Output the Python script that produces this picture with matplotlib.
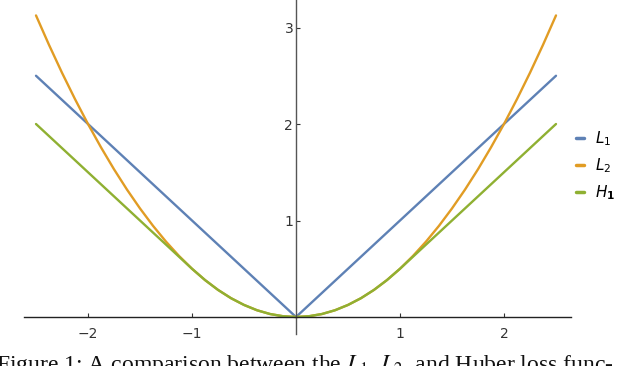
import matplotlib.pyplot as plt

# loss curves
x_l1 = [-2.5, 0.0, 2.5]
y_l1 = [2.5, 0.0, 2.5]

x_l2 = [-2.5, -2.375, -2.25, -2.125, -2.0, -1.875, -1.75, -1.625, -1.5, -1.375,
        -1.25, -1.125, -1.0, -0.875, -0.75, -0.625, -0.5, -0.375, -0.25, -0.125,
        0.0, 0.125, 0.25, 0.375, 0.5, 0.625, 0.75, 0.875, 1.0, 1.125,
        1.25, 1.375, 1.5, 1.625, 1.75, 1.875, 2.0, 2.125, 2.25, 2.375, 2.5]
y_l2 = [3.125, 2.820, 2.531, 2.258, 2.0, 1.758, 1.531, 1.320, 1.125, 0.945,
        0.781, 0.633, 0.5, 0.383, 0.281, 0.195, 0.125, 0.070, 0.031, 0.008,
        0.0, 0.008, 0.031, 0.070, 0.125, 0.195, 0.281, 0.383, 0.5, 0.633,
        0.781, 0.945, 1.125, 1.320, 1.531, 1.758, 2.0, 2.258, 2.531, 2.820, 3.125]

x_h1 = [-2.5, -1.0, -0.875, -0.75, -0.625, -0.5, -0.375, -0.25, -0.125,
        0.0, 0.125, 0.25, 0.375, 0.5, 0.625, 0.75, 0.875, 1.0, 2.5]
y_h1 = [2.0, 0.5, 0.383, 0.281, 0.195, 0.125, 0.070, 0.031, 0.008,
        0.0, 0.008, 0.031, 0.070, 0.125, 0.195, 0.281, 0.383, 0.5, 2.0]

x_ticks = [-2, -1, 1, 2]
y_ticks = [1, 2, 3]
labels = ['$L_1$', '$L_2$', r'$H_{\mathbf{1}}$']
colors = ['#5E81B5', '#E19C24', '#8FB032']

caption = 'Figure 1: A comparison between the $L_1$, $L_2$, and Huber loss func-'


def main():
    fig = plt.figure(figsize=(6.4, 3.66), dpi=100)
    ax = fig.add_axes([0, 0, 1, 1])
    ax.patch.set_alpha(0)

    # pixel layout: x=0 at 296 px, 104 px/unit; y=0 at 317 px from top, 96.5 px/unit
    ax.set_xlim(-296 / 104, (640 - 296) / 104)
    ax.set_ylim(-49 / 96.5, 317 / 96.5)

    for xs, ys, lab, c in zip([x_l1, x_l2, x_h1], [y_l1, y_l2, y_h1], labels, colors):
        ax.plot(xs, ys, color=c, lw=1.7, label=lab, solid_capstyle='round')

    for side in ['top', 'right']:
        ax.spines[side].set_visible(False)
    ax.spines['bottom'].set_position(('data', 0))
    ax.spines['left'].set_position(('data', 0))
    ax.spines['bottom'].set_bounds(-2.62, 2.64)
    ax.spines['left'].set_bounds(-0.18, 3.4)
    ax.spines['bottom'].set_color('#222222')
    ax.spines['left'].set_color('#555555')
    ax.spines['bottom'].set_linewidth(1.0)
    ax.spines['left'].set_linewidth(1.0)

    ax.set_xticks(x_ticks)
    ax.set_xticklabels(['\u22122', '\u22121', '1', '2'])
    ax.set_yticks(y_ticks)
    ax.tick_params(axis='x', direction='in', length=3, pad=7, labelsize=10,
                   colors='#333333')
    ax.tick_params(axis='y', direction='in', length=3, pad=2, labelsize=10,
                   colors='#333333')

    leg = ax.legend(loc='center left', bbox_to_anchor=(562 / 640, 1 - 166 / 366),
                    bbox_transform=fig.transFigure, frameon=False,
                    prop=dict(size=11, math_fontfamily='dejavusans'),
                    handlelength=0.55, handletextpad=0.7, labelspacing=0.55)
    for h in leg.get_lines():
        h.set_linewidth(2.5)

    fig.text(-0.006, -0.032, caption, fontsize=17.0, family='Liberation Serif',
             math_fontfamily='stix', ha='left', va='bottom', color='#111111')

    fig.savefig('out.png', dpi=100)


if __name__ == '__main__':
    main()
